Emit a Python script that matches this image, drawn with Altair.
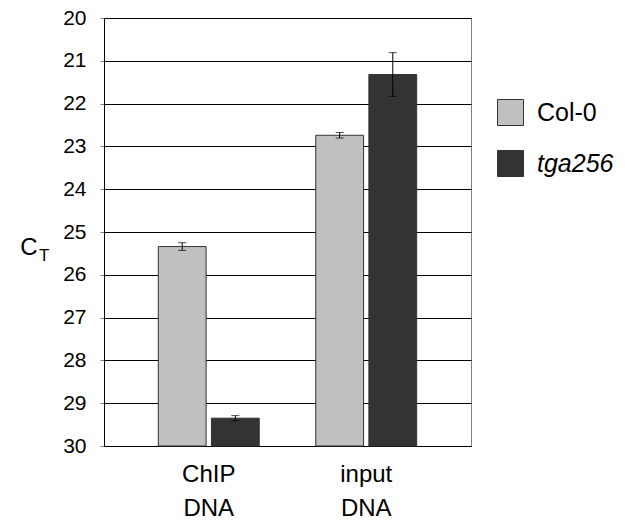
import altair as alt
import pandas as pd

groups = ["ChIP DNA", "input DNA"]
genotypes = ["Col-0", "tga256"]
ct_col0 = [25.34, 22.74]
ct_tga = [29.35, 21.32]
err_col0 = [0.09, 0.065]
err_tga = [0.06, 0.51]

rows = []
for i, g in enumerate(groups):
    rows.append({"group": g, "geno": "Col-0", "ct": ct_col0[i], "err": err_col0[i]})
    rows.append({"group": g, "geno": "tga256", "ct": ct_tga[i], "err": err_tga[i]})
df = pd.DataFrame(rows)
df["lo"] = df["ct"] - df["err"]
df["hi"] = df["ct"] + df["err"]

FONT = "Liberation Sans"

xscale = alt.Scale(paddingInner=0.359, paddingOuter=0.345)
xenc = alt.X("group:N", scale=xscale, sort=groups, axis=alt.Axis(
    title=None, labelAngle=0, ticks=False, labelFontSize=24, labelFont=FONT,
    labelColor="black", labelPadding=16, labelLineHeight=34,
    labelExpr="split(datum.label, ' ')", domainColor="black", domainWidth=1))
xoff = alt.XOffset("geno:N", sort=genotypes, scale=alt.Scale(paddingInner=0.1, paddingOuter=0))
yscale = alt.Scale(domain=[20, 30], reverse=True, nice=False, zero=False)

base = alt.Chart(df)

bars = base.mark_bar(stroke="#333333", strokeWidth=1).encode(
    x=xenc,
    xOffset=xoff,
    y=alt.Y("ct:Q", scale=yscale, axis=alt.Axis(
        title=None, values=list(range(20, 31)), grid=True, gridColor="black",
        gridWidth=1, tickSize=4, tickColor="#808080", labelPadding=14,
        labelFontSize=21, labelFont=FONT, labelColor="black",
        domainColor="black", domainWidth=1)),
    y2=alt.datum(30),
    fill=alt.Fill("geno:N", sort=genotypes,
                  scale=alt.Scale(domain=genotypes, range=["#C0C0C0", "#333333"]),
                  legend=alt.Legend(
                      title=None, orient="none", legendX=393, legendY=81,
                      symbolType="square", symbolSize=676, symbolStrokeColor="#333333",
                      symbolStrokeWidth=1, labelFontSize=25, labelFont=FONT,
                      labelColor="black", labelOffset=13, rowPadding=20,
                      labelFontStyle=alt.ExprRef(expr="datum.label == 'tga256' ? 'italic' : 'normal'"),
                      padding=0)),
)

rules = base.mark_rule(color="black", strokeWidth=1).encode(
    x=alt.X("group:N", scale=xscale, sort=groups),
    xOffset=xoff,
    y=alt.Y("lo:Q", scale=yscale),
    y2="hi:Q",
)
caps_lo = base.mark_tick(color="black", thickness=1, size=8).encode(
    x=alt.X("group:N", scale=xscale, sort=groups),
    xOffset=xoff,
    y=alt.Y("lo:Q", scale=yscale),
)
caps_hi = base.mark_tick(color="black", thickness=1, size=8).encode(
    x=alt.X("group:N", scale=xscale, sort=groups),
    xOffset=xoff,
    y=alt.Y("hi:Q", scale=yscale),
)

title_df = pd.DataFrame({"t": ["C"], "s": ["T"]})
title_c = alt.Chart(title_df).mark_text(font=FONT, fontSize=24, align="center",
                                        baseline="alphabetic", color="black").encode(
    text="t:N", x=alt.value(-75), y=alt.value(237))
title_t = alt.Chart(title_df).mark_text(font=FONT, fontSize=17, align="left",
                                        baseline="alphabetic", color="black").encode(
    text="s:N", x=alt.value(-65), y=alt.value(243))

chart = alt.layer(bars, rules, caps_lo, caps_hi, title_c, title_t).properties(
    width=367, height=428,
    autosize=alt.AutoSizeParams(type="none"),
    padding={"left": 104, "top": 18, "right": 154, "bottom": 80},
    background="white",
).configure_view(stroke="#808080", strokeWidth=1)

chart.save("out.html", embed_options={"renderer": "svg", "actions": False})
